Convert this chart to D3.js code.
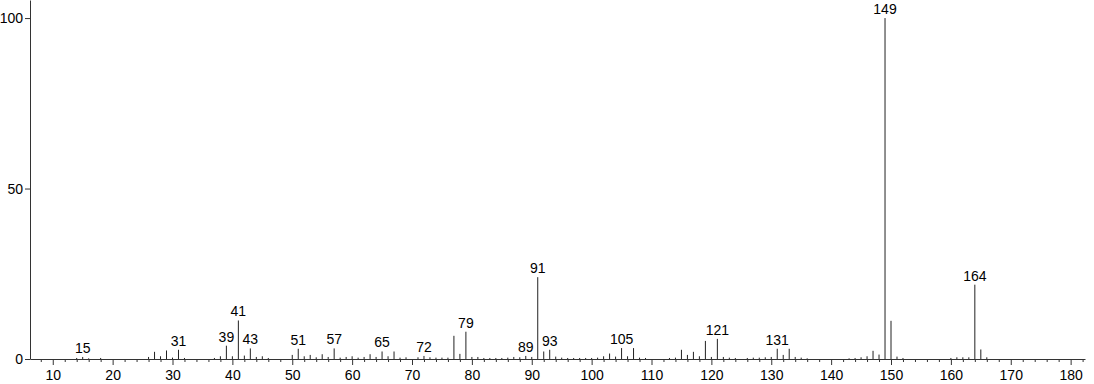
<!DOCTYPE html>
<html>
<head>
<meta charset="utf-8">
<script src="https://cdn.jsdelivr.net/npm/d3@7"></script>
<style>
  body { margin: 0; background: #fff; }
  svg { display: block; font-family: "Liberation Sans", Arial, sans-serif; }
</style>
</head>
<body>
<svg id="spectrum" width="1094" height="384"></svg>
<script>
// m/z values and relative intensities (%)
const masses = [14, 15, 16, 18, 26, 27, 28, 29, 30, 31, 32, 37, 38, 39, 40, 41, 42, 43, 44, 45, 46,
  50, 51, 52, 53, 54, 55, 56, 57, 58, 59, 60, 61, 62, 63, 64, 65, 66, 67, 68, 69, 71, 72, 73, 74, 75, 76,
  77, 78, 79, 80, 81, 82, 83, 84, 85, 86, 87, 88, 89, 90, 91, 92, 93, 94, 95, 96, 97, 98, 99, 100, 101,
  102, 103, 104, 105, 106, 107, 108, 109, 113, 114, 115, 116, 117, 118, 119, 120, 121, 122, 123, 124,
  126, 127, 128, 129, 130, 131, 132, 133, 134, 135, 136, 143, 144, 145, 146, 147, 148, 149, 150, 151,
  152, 160, 161, 162, 163, 164, 165, 166];
const intensities = [0.3, 0.6, 0.2, 0.3, 0.6, 2.1, 0.8, 2.5, 0.4, 2.7, 0.3, 0.3, 0.8, 3.9, 0.8, 11.3, 1.0, 3.1, 0.6, 0.8, 0.3,
  1.2, 3.0, 0.8, 1.2, 0.5, 1.4, 0.6, 3.1, 0.4, 0.6, 0.8, 0.4, 0.6, 1.4, 0.6, 2.2, 0.8, 2.2, 0.4, 0.5, 0.5, 0.9, 0.5, 0.4, 0.4, 0.4,
  6.8, 1.5, 8.0, 0.6, 0.6, 0.3, 0.3, 0.3, 0.3, 0.4, 0.6, 0.5, 0.9, 0.6, 24.0, 2.2, 2.7, 0.7, 0.4, 0.3, 0.3, 0.3, 0.3, 0.3, 0.4,
  0.8, 1.6, 0.7, 3.2, 0.8, 3.2, 0.4, 0.3, 0.3, 0.4, 2.7, 1.2, 2.1, 0.8, 5.3, 0.6, 5.9, 0.6, 0.4, 0.3,
  0.3, 0.4, 0.4, 0.5, 0.6, 3.0, 1.2, 3.0, 0.6, 0.4, 0.2, 0.2, 0.3, 0.5, 0.8, 2.4, 1.3, 100, 11.2, 0.7,
  0.3, 0.3, 0.5, 0.5, 0.5, 21.8, 2.8, 0.5];
// peaks that carry a label
const labeledMasses = [15, 31, 39, 41, 43, 51, 57, 65, 72, 79, 89, 91, 93, 105, 121, 131, 149, 164];
const xMajorTicks = d3.range(10, 181, 10);
const xMinorTicks = d3.range(8, 183, 2).filter(v => v % 10 !== 0);
const yTicks = [0, 50, 100];

const svg = d3.select("#spectrum");

const x = d3.scaleLinear().domain([6.2, 182.4]).range([30, 1085]);
const y = d3.scaleLinear().domain([0, 105.3]).range([359, 0]);

const peaks = masses.map((m, i) => ({mz: m, value: intensities[i]}));

// minor ticks (no labels)
svg.append("g")
    .attr("transform", "translate(0,359)")
    .call(d3.axisBottom(x).tickValues(xMinorTicks).tickSize(3).tickFormat(""))
    .call(g => g.select(".domain").remove())
    .call(g => g.selectAll("line").attr("stroke", "#333"));

// major ticks + labels
svg.append("g")
    .attr("transform", "translate(0,359)")
    .call(d3.axisBottom(x).tickValues(xMajorTicks).tickSize(6).tickSizeOuter(0).tickPadding(5))
    .call(g => g.select(".domain").attr("stroke", "#333"))
    .call(g => g.selectAll("line").attr("stroke", "#333"))
    .call(g => g.selectAll("text").attr("font-size", 14).attr("fill", "#000")
        .attr("font-family", "Liberation Sans, Arial, sans-serif"));

// y axis
svg.append("g")
    .attr("transform", "translate(30,0)")
    .call(d3.axisLeft(y).tickValues(yTicks).tickSize(5).tickSizeOuter(0).tickPadding(2))
    .call(g => g.select(".domain").attr("stroke", "#333"))
    .call(g => g.selectAll("line").attr("stroke", "#333"))
    .call(g => g.selectAll("text").attr("font-size", 14).attr("fill", "#000")
        .attr("font-family", "Liberation Sans, Arial, sans-serif"));

// stick bars
svg.append("g").selectAll("line")
    .data(peaks)
    .enter().append("line")
    .attr("x1", d => x(d.mz))
    .attr("x2", d => x(d.mz))
    .attr("y1", y(0))
    .attr("y2", d => y(d.value))
    .attr("stroke", "#222")
    .attr("stroke-width", 1);

// peak labels
svg.append("g").selectAll("text")
    .data(peaks.filter(d => labeledMasses.includes(d.mz)))
    .enter().append("text")
    .attr("x", d => x(d.mz))
    .attr("y", d => y(d.value) - 4)
    .attr("text-anchor", "middle")
    .attr("font-size", 14)
    .attr("fill", "#000")
    .text(d => d.mz);
</script>
</body>
</html>
